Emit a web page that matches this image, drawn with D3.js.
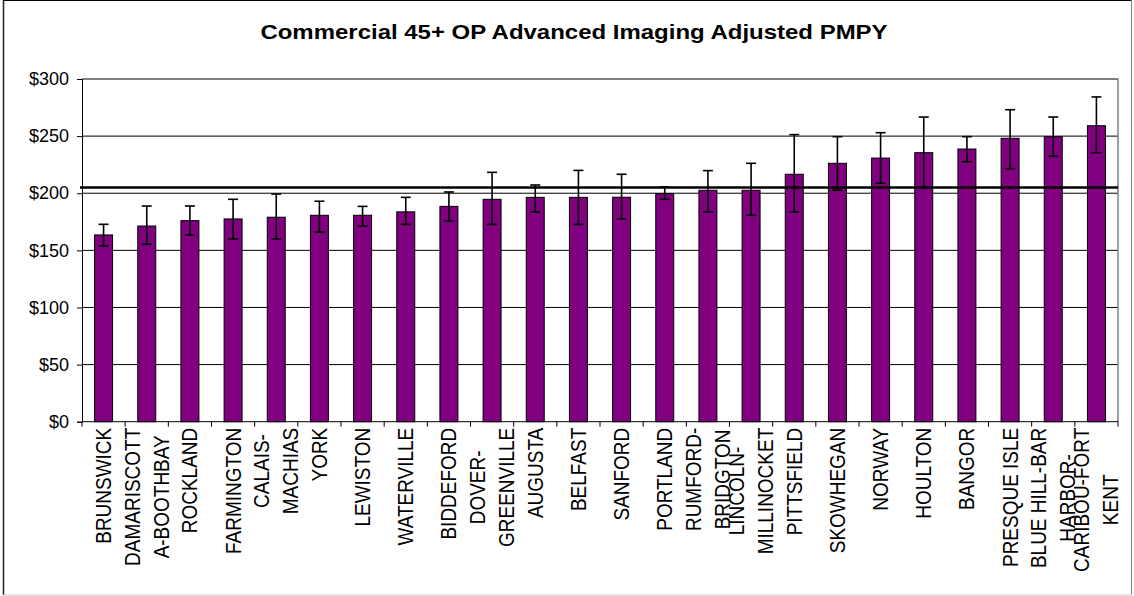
<!DOCTYPE html>
<html>
<head>
<meta charset="utf-8">
<script src="https://cdn.jsdelivr.net/npm/d3@7"></script>
<style>
  body { margin: 0; background: #fff; }
  svg { display: block; font-family: "Liberation Sans", Arial, sans-serif; }
</style>
</head>
<body>
<svg id="chart" width="1134" height="596"></svg>
<script>
const chartTitle = "Commercial 45+ OP Advanced Imaging Adjusted PMPY";

// tick labels as they wrap in the original
const labelLines = [
    ["BRUNSWICK"], ["DAMARISCOTT", "A-BOOTHBAY"], ["ROCKLAND"], ["FARMINGTON"],
    ["CALAIS-", "MACHIAS"], ["YORK"], ["LEWISTON"], ["WATERVILLE"], ["BIDDEFORD"],
    ["DOVER-", "GREENVILLE"], ["AUGUSTA"], ["BELFAST"], ["SANFORD"], ["PORTLAND"],
    ["RUMFORD-", "BRIDGTON"], ["LINCOLN-", "MILLINOCKET"], ["PITTSFIELD"], ["SKOWHEGAN"],
    ["NORWAY"], ["HOULTON"], ["BANGOR"], ["PRESQUE ISLE"], ["BLUE HILL-BAR", "HARBOR-"],
    ["CARIBOU-FORT", "KENT"]
];
const categories = labelLines.map(l => l.join(" "));

const values = [163.5, 171.3, 176.0, 177.5, 179.0, 180.7, 180.7, 183.7, 188.5, 194.7, 196.4, 196.4,
    196.5, 199.6, 202.6, 202.6, 216.6, 226.2, 230.8, 235.5, 238.7, 248.1, 249.5, 259.1];
const lowerCI = [153.8, 155.3, 163.4, 159.9, 160.0, 166.0, 171.3, 172.8, 175.7, 172.8, 183.6, 172.8,
    177.5, 194.7, 183.6, 180.7, 183.6, 202.6, 208.7, 204.9, 227.6, 221.5, 232.3, 235.5];
const upperCI = [172.8, 188.8, 188.8, 194.7, 199.3, 193.0, 188.5, 196.4, 201.1, 218.3, 207.2, 220.0,
    216.6, 205.5, 219.8, 226.2, 251.3, 249.5, 253.0, 266.7, 249.5, 273.1, 266.7, 284.3];
const referenceValue = 205;
const yTicks = [0, 50, 100, 150, 200, 250, 300];

const svg = d3.select('#chart');
const plot = {left: 82, right: 1118, top: 79, bottom: 421.7};
const stretchX = 1.17; // the source picture is widened a bit, glyphs included

// outer frame
const frame = svg.append('g');
frame.append('line').attr('x1', 3).attr('x2', 1132).attr('y1', 0.5).attr('y2', 0.5).attr('stroke', '#000');
frame.append('line').attr('x1', 3.5).attr('x2', 3.5).attr('y1', 0).attr('y2', 595).attr('stroke', '#222').attr('stroke-width', 1.5);
frame.append('line').attr('x1', 1131.5).attr('x2', 1131.5).attr('y1', 0).attr('y2', 595).attr('stroke', '#808080');
frame.append('line').attr('x1', 3).attr('x2', 1132).attr('y1', 595).attr('y2', 595).attr('stroke', '#c8c8c8');

svg.append('text')
    .attr('transform', `translate(574,38.5) scale(${stretchX},1)`)
    .attr('text-anchor', 'middle')
    .attr('font-size', 20.5).attr('font-weight', 'bold')
    .text(chartTitle);

const x = d3.scaleBand().domain(categories).range([plot.left, plot.right]).padding(0);
const y = d3.scaleLinear().domain([0, 300]).range([plot.bottom, plot.top]);
const barW = x.bandwidth() / 2.4;

// gridlines
svg.append('g').selectAll('line').data(yTicks.filter(d => d > 0)).enter().append('line')
    .attr('x1', plot.left).attr('x2', plot.right)
    .attr('y1', d => y(d)).attr('y2', d => y(d))
    .attr('stroke', '#000').attr('stroke-width', 1);

// plot border (top/right grey)
svg.append('path')
    .attr('d', `M${plot.left},${y(300)}H${plot.right}V${plot.bottom}`)
    .attr('fill', 'none').attr('stroke', '#808080').attr('stroke-width', 1.5);

// y axis
const yAxis = svg.append('g')
    .attr('transform', `translate(${plot.left},0)`)
    .call(d3.axisLeft(y).tickValues(yTicks).tickSize(5).tickPadding(8).tickFormat(d => '$' + d));
yAxis.select('.domain').attr('stroke', '#000');
yAxis.selectAll('text').attr('font-size', 18).attr('fill', '#000')
    .attr('font-family', '"Liberation Sans", Arial, sans-serif');

// bars
svg.append('g').selectAll('rect').data(values).enter().append('rect')
    .attr('x', (d, i) => x(categories[i]) + (x.bandwidth() - barW) / 2)
    .attr('y', d => y(d))
    .attr('width', barW)
    .attr('height', d => plot.bottom - y(d))
    .attr('fill', '#800080')
    .attr('stroke', '#000').attr('stroke-width', 1);

// error bars
const err = svg.append('g').attr('stroke', '#000').attr('stroke-width', 1.6);
categories.forEach((c, i) => {
    const cx = x(c) + x.bandwidth() / 2;
    err.append('line').attr('x1', cx).attr('x2', cx).attr('y1', y(upperCI[i])).attr('y2', y(lowerCI[i]));
    err.append('line').attr('x1', cx - 5).attr('x2', cx + 5).attr('y1', y(upperCI[i])).attr('y2', y(upperCI[i]));
    err.append('line').attr('x1', cx - 5).attr('x2', cx + 5).attr('y1', y(lowerCI[i])).attr('y2', y(lowerCI[i]));
});

// reference line
svg.append('line')
    .attr('x1', plot.left - 2).attr('x2', plot.right)
    .attr('y1', y(referenceValue)).attr('y2', y(referenceValue))
    .attr('stroke', '#000').attr('stroke-width', 2.5);

// x axis line and ticks at category boundaries
const xa = svg.append('g');
xa.append('line').attr('x1', plot.left).attr('x2', plot.right)
    .attr('y1', plot.bottom).attr('y2', plot.bottom).attr('stroke', '#000');
const bounds = categories.map(c => x(c)).concat([plot.right]);
xa.selectAll('line.tick').data(bounds).enter().append('line')
    .attr('class', 'tick')
    .attr('x1', d => d).attr('x2', d => d)
    .attr('y1', plot.bottom).attr('y2', plot.bottom + 5)
    .attr('stroke', '#000');

// rotated category labels, lines centred within each label block
const lineGap = 29;
const labelTop = plot.bottom + 6;
categories.forEach((c, i) => {
    const lines = labelLines[i];
    const cx = x(c) + x.bandwidth() / 2;
    const t = svg.append('text')
        .attr('font-size', 19).attr('text-anchor', 'middle');
    lines.forEach((ln, j) => t.append('tspan').attr('x', 0).attr('y', 0)
        .attr('dy', j * lineGap / stretchX).text(ln));
    let maxLen = 0;
    t.selectAll('tspan').each(function () { maxLen = Math.max(maxLen, this.getComputedTextLength()); });
    const blockOffset = (lines.length - 1) * lineGap / 2;
    // rotated -90: text's "down" points to +x, baseline sits ~0.35em right of centre
    t.attr('transform', `translate(${cx - blockOffset + 7.5},${labelTop + maxLen / 2}) scale(${stretchX},1) rotate(-90)`);
});
</script>
</body>
</html>
